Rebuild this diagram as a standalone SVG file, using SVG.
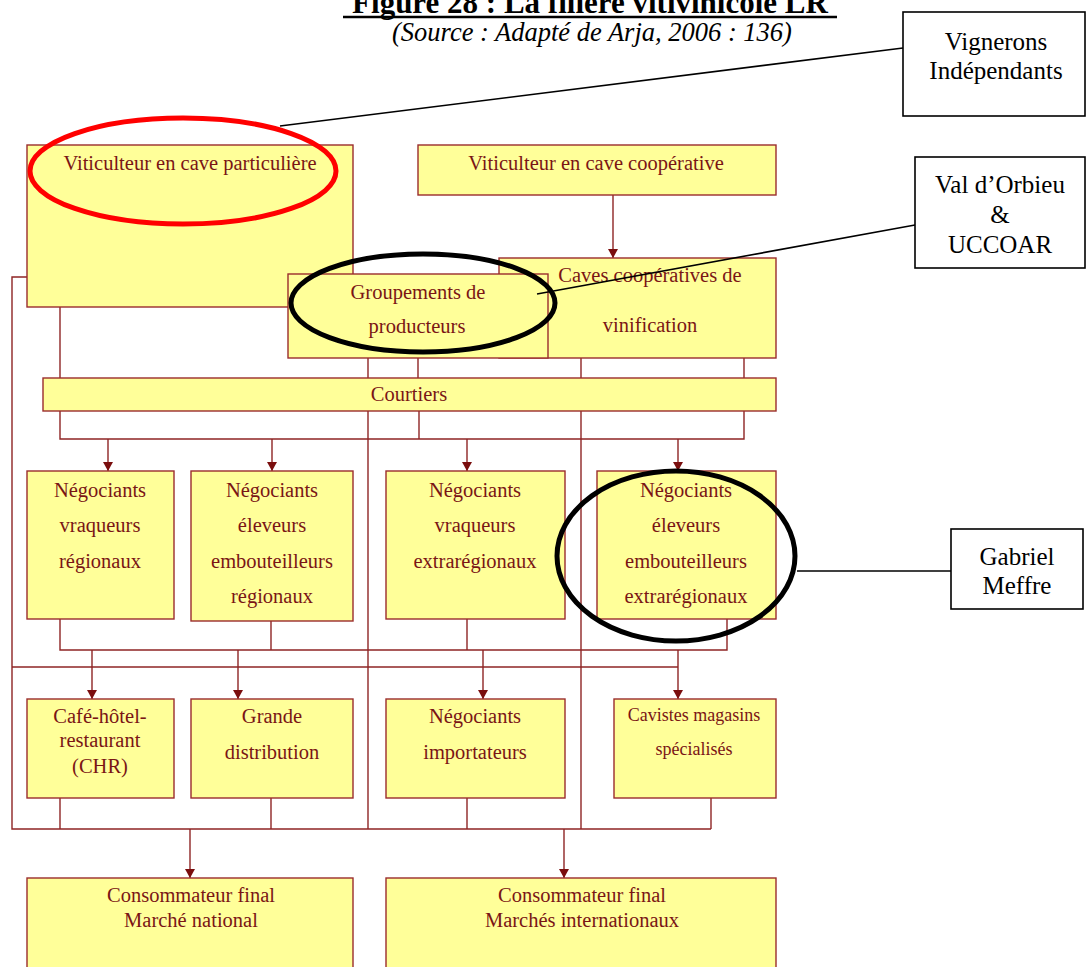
<svg xmlns="http://www.w3.org/2000/svg" width="1086" height="967" viewBox="0 0 1086 967">
<style>
.box{fill:#FFFF99;stroke:#9B2D2D;stroke-width:1.4}
.ln{fill:none;stroke:#8E2424;stroke-width:1.4}
.ar{fill:none;stroke:#8E2424;stroke-width:1.4;marker-end:url(#ah)}
.t{font-family:"Liberation Serif","Times New Roman",serif;font-size:20.5px;fill:#7A1515;text-anchor:middle}
.ts{font-size:18px}
.ab{fill:#FFFFFF;stroke:#000000;stroke-width:1.6}
.at{font-family:"Liberation Serif","Times New Roman",serif;font-size:25px;fill:#000000;text-anchor:middle}
.al{fill:none;stroke:#000000;stroke-width:1.6}
.hl{fill:none;stroke:#000000;stroke-width:5}
</style>
<defs>
<marker id="ah" viewBox="0 0 9 10" refX="9" refY="5" markerWidth="9" markerHeight="10" markerUnits="userSpaceOnUse" orient="auto">
<path d="M0,0 L9,5 L0,10 z" fill="#7A0E0E"/>
</marker>
</defs>

<g id="title">
<text x="590" y="13" font-family="Liberation Serif,'Times New Roman',serif" font-size="31" font-weight="bold" text-anchor="middle">Figure 28 : La filière vitivinicole LR</text>
<line x1="343" y1="17" x2="837" y2="17" stroke="#000" stroke-width="2.5"/>
<text x="592" y="41" font-family="Liberation Serif,'Times New Roman',serif" font-size="26.5" font-style="italic" text-anchor="middle">(Source : Adapté de Arja, 2006 : 136)</text>
</g>

<g id="connectors">
<polyline class="ln" points="27,277 12,277 12,829 711,829"/>
<line class="ln" x1="60" y1="307" x2="60" y2="378"/>
<line class="ln" x1="418" y1="358" x2="418" y2="378"/>
<line class="ln" x1="744" y1="358" x2="744" y2="378"/>
<line class="ln" x1="368" y1="358" x2="368" y2="829"/>
<line class="ln" x1="581" y1="358" x2="581" y2="829"/>
<polyline class="ln" points="60,411 60,439 744,439 744,411"/>
<line class="ln" x1="419" y1="411" x2="419" y2="439"/>
<line class="ar" x1="108" y1="439" x2="108" y2="471"/>
<line class="ar" x1="272" y1="439" x2="272" y2="471"/>
<line class="ar" x1="467" y1="439" x2="467" y2="471"/>
<line class="ar" x1="678" y1="439" x2="678" y2="471"/>
<polyline class="ln" points="60,619 60,650 727,650 727,619"/>
<line class="ln" x1="271" y1="621" x2="271" y2="650"/>
<line class="ln" x1="467" y1="619" x2="467" y2="650"/>
<line class="ln" x1="12" y1="667" x2="678" y2="667"/>
<line class="ar" x1="92" y1="650" x2="92" y2="699"/>
<line class="ar" x1="238" y1="650" x2="238" y2="699"/>
<line class="ar" x1="483" y1="650" x2="483" y2="699"/>
<line class="ar" x1="678" y1="650" x2="678" y2="699"/>
<line class="ln" x1="60" y1="798" x2="60" y2="829"/>
<line class="ln" x1="271" y1="798" x2="271" y2="829"/>
<line class="ln" x1="467" y1="798" x2="467" y2="829"/>
<line class="ln" x1="711" y1="798" x2="711" y2="829"/>
<line class="ar" x1="190" y1="829" x2="190" y2="878"/>
<line class="ar" x1="564" y1="829" x2="564" y2="878"/>
<line class="ar" x1="613" y1="195" x2="613" y2="258"/>
</g>

<g id="viticulteur-particuliere">
<rect class="box" x="27" y="145" width="326" height="162"/>
<text class="t" x="190" y="170">Viticulteur en cave particulière</text>
</g>
<g id="viticulteur-cooperative">
<rect class="box" x="418" y="145" width="358" height="50"/>
<text class="t" x="596" y="170">Viticulteur en cave coopérative</text>
</g>
<g id="caves-cooperatives">
<rect class="box" x="499" y="258" width="277" height="100"/>
<text class="t" x="650" y="282">Caves coopératives de</text>
<text class="t" x="650" y="332">vinification</text>
</g>
<g id="groupements">
<rect class="box" x="288" y="274" width="260" height="84"/>
<text class="t" x="418" y="299">Groupements de</text>
<text class="t" x="417" y="333">producteurs</text>
</g>
<g id="courtiers">
<rect class="box" x="43" y="378" width="733" height="33"/>
<text class="t" x="409" y="401">Courtiers</text>
</g>

<g id="neg-vraqueurs-regionaux">
<rect class="box" x="27" y="471" width="147" height="148"/>
<text class="t" x="100" y="497">Négociants</text>
<text class="t" x="100" y="532">vraqueurs</text>
<text class="t" x="100" y="568">régionaux</text>
</g>
<g id="neg-eleveurs-regionaux">
<rect class="box" x="191" y="471" width="162" height="150"/>
<text class="t" x="272" y="497">Négociants</text>
<text class="t" x="272" y="532">éleveurs</text>
<text class="t" x="272" y="568">embouteilleurs</text>
<text class="t" x="272" y="603">régionaux</text>
</g>
<g id="neg-vraqueurs-extra">
<rect class="box" x="386" y="471" width="179" height="148"/>
<text class="t" x="475" y="497">Négociants</text>
<text class="t" x="475" y="532">vraqueurs</text>
<text class="t" x="475" y="568">extrarégionaux</text>
</g>
<g id="neg-eleveurs-extra">
<rect class="box" x="597" y="471" width="179" height="148"/>
<text class="t" x="686" y="497">Négociants</text>
<text class="t" x="686" y="532">éleveurs</text>
<text class="t" x="686" y="568">embouteilleurs</text>
<text class="t" x="686" y="603">extrarégionaux</text>
</g>

<g id="chr">
<rect class="box" x="27" y="699" width="147" height="99"/>
<text class="t" x="100" y="723">Café-hôtel-</text>
<text class="t" x="100" y="747">restaurant</text>
<text class="t" x="100" y="773">(CHR)</text>
</g>
<g id="grande-distribution">
<rect class="box" x="191" y="699" width="162" height="99"/>
<text class="t" x="272" y="723">Grande</text>
<text class="t" x="272" y="759">distribution</text>
</g>
<g id="neg-importateurs">
<rect class="box" x="386" y="699" width="179" height="99"/>
<text class="t" x="475" y="723">Négociants</text>
<text class="t" x="475" y="759">importateurs</text>
</g>
<g id="cavistes">
<rect class="box" x="614" y="699" width="162" height="99"/>
<text class="t ts" x="694" y="721">Cavistes magasins</text>
<text class="t ts" x="694" y="755">spécialisés</text>
</g>

<g id="conso-national">
<rect class="box" x="27" y="878" width="326" height="100"/>
<text class="t" x="191" y="902">Consommateur final</text>
<text class="t" x="191" y="927">Marché national</text>
</g>
<g id="conso-international">
<rect class="box" x="386" y="878" width="390" height="100"/>
<text class="t" x="582" y="902">Consommateur final</text>
<text class="t" x="582" y="927">Marchés internationaux</text>
</g>

<g id="highlights">
<ellipse cx="183" cy="171" rx="153" ry="53" fill="none" stroke="#FF0000" stroke-width="5"/>
<ellipse cx="423" cy="303" rx="132" ry="49" class="hl"/>
<ellipse cx="676" cy="556" rx="119" ry="85" class="hl"/>
</g>

<g id="annotation-links">
<line class="al" x1="280" y1="126" x2="903" y2="48"/>
<line class="al" x1="537" y1="294" x2="915" y2="225"/>
<line class="al" x1="797" y1="571" x2="951" y2="571"/>
</g>

<g id="vignerons-independants">
<rect class="ab" x="903" y="12" width="182" height="104"/>
<text class="at" x="996" y="50">Vignerons</text>
<text class="at" x="996" y="79">Indépendants</text>
</g>
<g id="val-dorbieu">
<rect class="ab" x="915" y="157" width="170" height="111"/>
<text class="at" x="1000" y="193">Val d’Orbieu</text>
<text class="at" x="1000" y="223">&amp;</text>
<text class="at" x="1000" y="253">UCCOAR</text>
</g>
<g id="gabriel-meffre">
<rect class="ab" x="951" y="529" width="132" height="80"/>
<text class="at" x="1017" y="565">Gabriel</text>
<text class="at" x="1017" y="594">Meffre</text>
</g>
</svg>
